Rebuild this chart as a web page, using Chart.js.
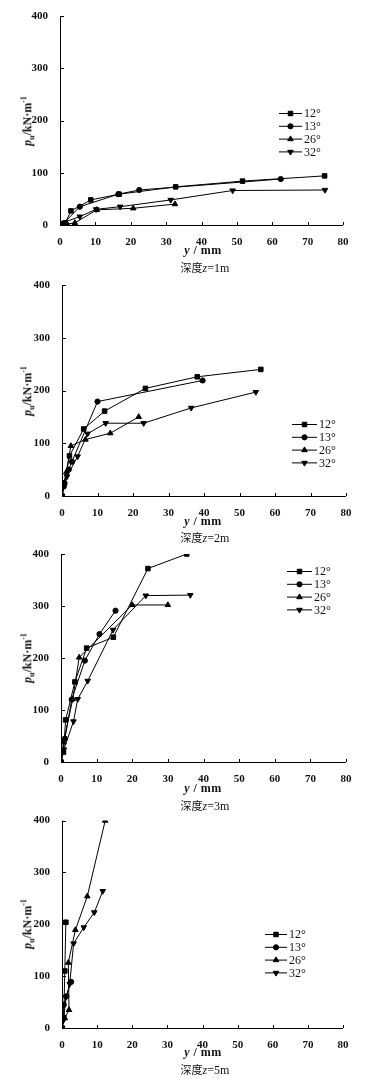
<!DOCTYPE html>
<html>
<head>
<meta charset="utf-8">
<script src="https://cdn.jsdelivr.net/npm/chart.js@4.4.0/dist/chart.umd.min.js"></script>
<style>
  body { margin: 0; background: #fff; }
  #wrap { position: relative; width: 376px; height: 1079px; overflow: hidden; }
  .pane { position: absolute; left: 0; width: 376px; height: 270px; }
  .lbl { position: absolute; font-family: "Liberation Serif", serif; font-weight: bold; font-size: 12px; color: #111; white-space: nowrap; }
  .ytitle { transform: translate(-50%, -50%) rotate(-90deg); }
  .xtitle { transform: translate(-50%, -50%); letter-spacing: 0.5px; }
  .dep { position: absolute; transform: translate(-50%, -50%); font-family: "Noto Sans CJK SC", sans-serif; font-size: 11px; color: #111; white-space: nowrap; }
  .dep span { font-family: "Liberation Serif", serif; font-size: 12px; }
</style>
</head>
<body>
<div id="wrap"></div>
<script>
// series names and tick labels
var seriesNames = ['12°', '13°', '26°', '32°'];
var depthLabels = ['1m', '2m', '3m', '5m'];
var xTicks = [0, 10, 20, 30, 40, 50, 60, 70, 80];
var yTicks = [0, 100, 200, 300, 400];

// depth z=1m : y (mm) and p (kN/m)
var y1_12 = [0, 1.5, 3.1, 8.7, 16.7, 32.7, 51.6, 74.8];
var p1_12 = [0, 4, 27, 48, 59, 73, 84, 94];
var y1_13 = [0, 1, 5.6, 16.5, 22.4, 62.4];
var p1_13 = [0, 3, 35, 59, 67, 88];
var y1_26 = [0, 2, 4.2, 10.4, 20.7, 32.5];
var p1_26 = [0, 2, 4, 29, 32, 40];
var y1_32 = [0, 0.6, 5.6, 10.2, 17, 31.3, 48.8, 74.9];
var p1_32 = [0, 4, 16, 30, 35, 48, 66, 67];

// depth z=2m
var y2_12 = [0, 0.7, 2.1, 6.1, 12, 23.5, 38.1, 56];
var p2_12 = [0, 24, 76, 127, 161, 204, 226, 240];
var y2_13 = [0, 0.5, 1.9, 2.8, 10, 39.6];
var p2_13 = [0, 18, 50, 65, 179, 219];
var y2_26 = [0, 0.5, 1.2, 2.5, 6.6, 13.6, 21.6];
var p2_26 = [0, 24, 45, 95, 107, 119, 150];
var y2_32 = [0, 0.7, 1.4, 4.4, 7.2, 12.3, 23, 36.4, 54.6];
var p2_32 = [0, 21, 37, 75, 118, 138, 138, 167, 197];

// depth z=3m
var y3_12 = [0, 0.7, 1.3, 3.9, 7.2, 14.7, 24.4, 35.3];
var p3_12 = [0, 19, 81, 154, 219, 240, 372, 400];
var y3_13 = [0, 1.1, 3, 6.7, 10.8, 15.3];
var p3_13 = [0, 45, 120, 195, 246, 291];
var y3_26 = [0, 0.7, 3.3, 5.1, 20, 30];
var p3_26 = [0, 38, 121, 201, 302, 302];
var y3_32 = [0, 0.8, 3.5, 4.7, 7.5, 14.6, 23.8, 36.3];
var p3_32 = [0, 24, 78, 121, 156, 254, 320, 321];

// depth z=5m
var y5_12 = [0, 0.5, 0.8, 1.1];
var p5_12 = [0, 20, 110, 204];
var y5_13 = [0, 0.3, 0.5, 1.2, 2.6];
var p5_13 = [0, 20, 45, 61, 89];
var y5_26 = [0, 0.8, 2, 1.8, 3.8, 7.2, 12.3];
var p5_26 = [0, 19, 35, 126, 189, 254, 400];
var y5_32 = [0, 0.4, 1.2, 2.2, 3.3, 6.2, 9.2, 11.6];
var p5_32 = [0, 15, 60, 85, 163, 194, 223, 264];

var panelData = [
    [[y1_12, p1_12], [y1_13, p1_13], [y1_26, p1_26], [y1_32, p1_32]],
    [[y2_12, p2_12], [y2_13, p2_13], [y2_26, p2_26], [y2_32, p2_32]],
    [[y3_12, p3_12], [y3_13, p3_13], [y3_26, p3_26], [y3_32, p3_32]],
    [[y5_12, p5_12], [y5_13, p5_13], [y5_26, p5_26], [y5_32, p5_32]]
];

// layout of each panel (pixels inside a 376x270 pane)
var panes = [
    { top: 0,   L: 60, R: 343, T: 16, B: 225, leg: [279, 113, 23], xt: 250, dt: 267 },
    { top: 270, L: 62, R: 346, T: 15, B: 226, leg: [292, 154, 25], xt: 251, dt: 267 },
    { top: 540, L: 61, R: 346, T: 14, B: 222, leg: [287, 31, 25],  xt: 248, dt: 265 },
    { top: 810, L: 62, R: 343, T: 10, B: 218, leg: [265, 124, 22], xt: 242, dt: 259 }
];

var styles = [
    { pointStyle: 'rect', radius: 3.2, rotation: 0 },
    { pointStyle: 'circle', radius: 2.6, rotation: 0 },
    { pointStyle: 'triangle', radius: 3.2, rotation: 0 },
    { pointStyle: 'triangle', radius: 3.2, rotation: 180 }
];

var tickFont = { family: '"Liberation Serif", serif', weight: 'bold', size: 11 };

// inward tick marks and axis lines
var axesPlugin = {
    id: 'axesPlugin',
    afterDraw: function (chart) {
        var ctx = chart.ctx, xs = chart.scales.x, ys = chart.scales.y;
        var a = chart.chartArea;
        ctx.save();
        ctx.strokeStyle = '#000';
        ctx.lineWidth = 1;
        ctx.beginPath();
        ctx.moveTo(a.left + 0.5, a.top);
        ctx.lineTo(a.left + 0.5, a.bottom + 0.5);
        ctx.lineTo(a.right, a.bottom + 0.5);
        xs.ticks.forEach(function (t) {
            var px = Math.round(xs.getPixelForValue(t.value)) + 0.5;
            ctx.moveTo(px, a.bottom);
            ctx.lineTo(px, a.bottom - 3);
        });
        ys.ticks.forEach(function (t) {
            var py = Math.round(ys.getPixelForValue(t.value)) + 0.5;
            ctx.moveTo(a.left, py);
            ctx.lineTo(a.left + 4, py);
        });
        ctx.stroke();
        ctx.restore();
    }
};

// legend: short line with marker in the middle
var legendPlugin = {
    id: 'lineLegend',
    afterDraw: function (chart) {
        var o = chart.options.plugins.lineLegend;
        var ctx = chart.ctx;
        ctx.save();
        chart.data.datasets.forEach(function (ds, i) {
            var y = o.y + i * 12.8;
            ctx.strokeStyle = '#000';
            ctx.lineWidth = 1;
            ctx.beginPath();
            ctx.moveTo(o.x, y + 0.5);
            ctx.lineTo(o.x + o.len, y + 0.5);
            ctx.stroke();
            ctx.fillStyle = '#000';
            Chart.helpers.drawPoint(ctx, {
                pointStyle: ds.pointStyle, radius: ds.pointRadius, rotation: ds.rotation, borderWidth: 1
            }, o.x + o.len / 2, y + 0.5);
            ctx.fillStyle = '#111';
            ctx.font = '12px "Liberation Serif", serif';
            ctx.textBaseline = 'middle';
            ctx.fillText(ds.label, o.x + o.len + 2, y + 1);
        });
        ctx.restore();
    }
};

function addLabel(wrap, cls, html, x, y) {
    var d = document.createElement('div');
    d.className = cls;
    d.innerHTML = html;
    d.style.left = x + 'px';
    d.style.top = y + 'px';
    wrap.appendChild(d);
}

document.addEventListener('DOMContentLoaded', function () {
    var wrap = document.getElementById('wrap');

    panes.forEach(function (pn, k) {
        var box = document.createElement('div');
        box.className = 'pane';
        box.style.top = pn.top + 'px';
        var cv = document.createElement('canvas');
        cv.width = 376;
        cv.height = 270;
        box.appendChild(cv);
        wrap.appendChild(box);

        var datasets = panelData[k].map(function (sd, i) {
            var pts = sd[0].map(function (v, j) {
                return { x: v, y: sd[1][j] };
            });
            return {
                label: seriesNames[i],
                data: pts,
                showLine: true,
                borderColor: '#000',
                backgroundColor: '#000',
                borderWidth: 1,
                pointStyle: styles[i].pointStyle,
                pointRadius: styles[i].radius,
                pointHoverRadius: styles[i].radius,
                rotation: styles[i].rotation,
                pointBorderWidth: 1
            };
        });

        new Chart(cv.getContext('2d'), {
            type: 'scatter',
            data: { datasets: datasets },
            plugins: [axesPlugin, legendPlugin],
            options: {
                responsive: false,
                animation: false,
                devicePixelRatio: 1,
                layout: { padding: { left: 0, top: pn.T, right: 376 - pn.R, bottom: 0 } },
                plugins: {
                    legend: { display: false },
                    tooltip: { enabled: false },
                    lineLegend: { x: pn.leg[0], y: pn.leg[1], len: pn.leg[2] }
                },
                scales: {
                    x: {
                        type: 'linear', min: 0, max: 80,
                        afterBuildTicks: function (s) { s.ticks = xTicks.map(function (v) { return { value: v }; }); },
                        afterFit: function (s) { s.height = 270 - pn.B; },
                        grid: { display: false },
                        border: { display: false },
                        ticks: { color: '#111', font: tickFont, padding: 3, maxRotation: 0 }
                    },
                    y: {
                        type: 'linear', min: 0, max: 400,
                        afterBuildTicks: function (s) { s.ticks = yTicks.map(function (v) { return { value: v }; }); },
                        afterFit: function (s) { s.width = pn.L; },
                        grid: { display: false },
                        border: { display: false },
                        ticks: { color: '#111', font: tickFont, padding: 4 }
                    }
                }
            }
        });

        var midY = pn.top + (pn.T + pn.B) / 2;
        addLabel(wrap, 'lbl ytitle', '<i>p</i><sub style="font-size:8px">u</sub>/kN·m<sup style="font-size:8px">-1</sup>', 28, midY);
        addLabel(wrap, 'lbl xtitle', '<i>y</i> / mm', 203, pn.top + pn.xt);
        addLabel(wrap, 'dep', '深度<span><i>z</i>=' + depthLabels[k] + '</span>', 205, pn.top + pn.dt);
    });
});
</script>
</body>
</html>
